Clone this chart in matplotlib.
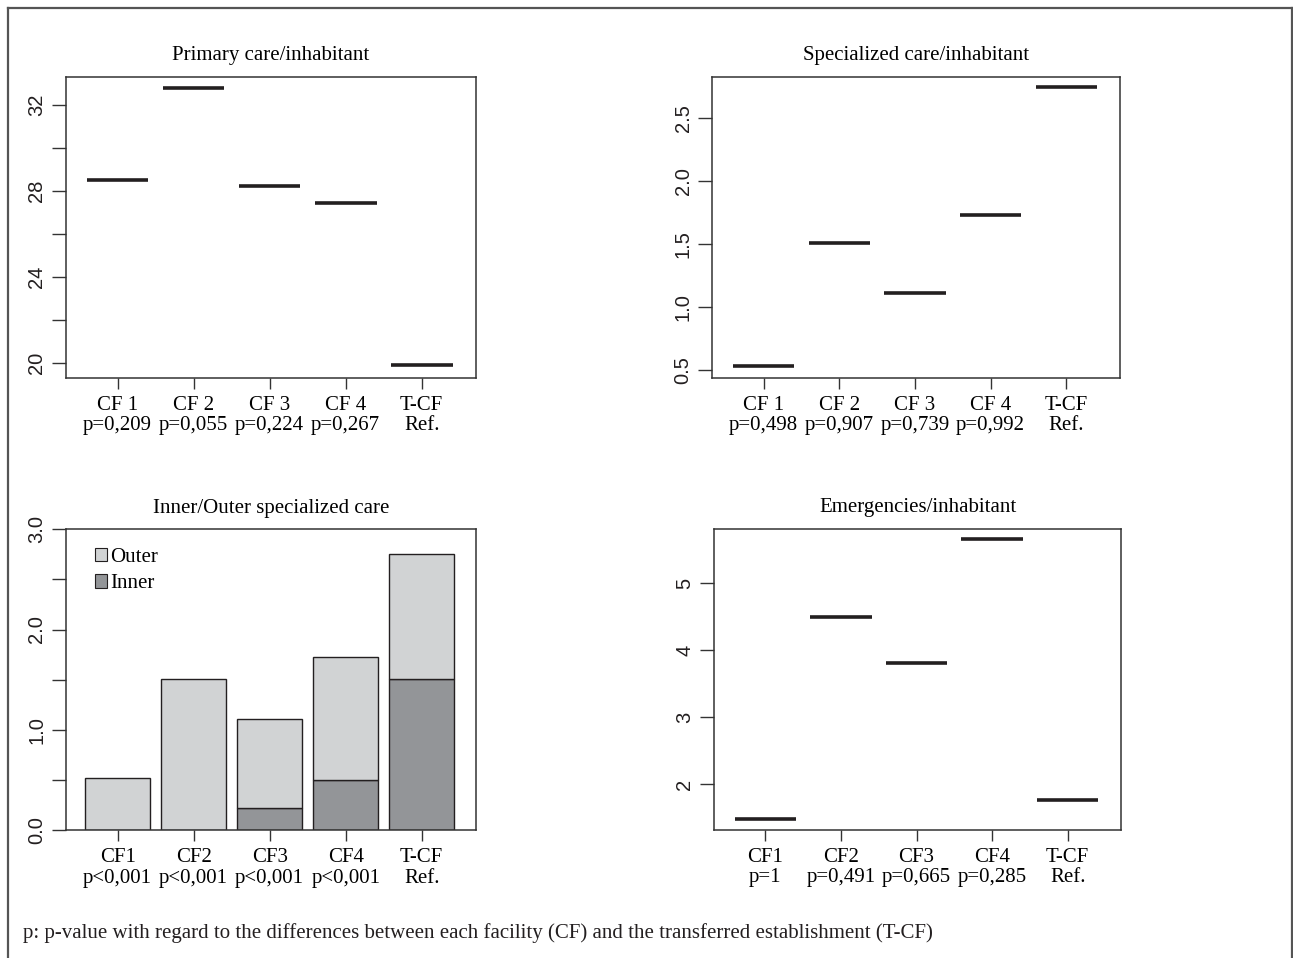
import numpy as np
import matplotlib
matplotlib.use("Agg")
import matplotlib.pyplot as plt
from matplotlib.patches import Patch
from matplotlib.lines import Line2D

plt.rcParams['font.family'] = ['Liberation Serif', 'DejaVu Serif']

# datos
labels_sp = ["CF 1\np=0,209", "CF 2\np=0,055", "CF 3\np=0,224", "CF 4\np=0,267", "T-CF\nRef."]
primary = [28.52, 32.78, 28.24, 27.46, 19.9]

labels_spec = ["CF 1\np=0,498", "CF 2\np=0,907", "CF 3\np=0,739", "CF 4\np=0,992", "T-CF\nRef."]
specialized = [0.53, 1.51, 1.11, 1.73, 2.75]

labels_io = ["CF1\np<0,001", "CF2\np<0,001", "CF3\np<0,001", "CF4\np<0,001", "T-CF\nRef."]
inner = [0.0, 0.0, 0.22, 0.50, 1.51]
total_io = [0.52, 1.51, 1.11, 1.73, 2.75]

labels_em = ["CF1\np=1", "CF2\np=0,491", "CF3\np=0,665", "CF4\np=0,285", "T-CF\nRef."]
emergencies = [1.48, 4.5, 3.81, 5.65, 1.76]

W, H = 1293, 958
fig = plt.figure(figsize=(W / 100, H / 100), dpi=100)

INK = '#231f20'
FS = 15


def make_ax(l, t, r, b):
    return fig.add_axes([l / W, 1 - b / H, (r - l) / W, (b - t) / H])


def style(ax, labels, title):
    x = np.arange(len(labels))
    ax.set_xlim(-0.684, 4.71)
    ax.set_xticks(x)
    ax.set_xticklabels(labels, fontsize=FS, linespacing=1.12)
    ax.set_title(title, fontsize=FS, pad=12)
    for s in ax.spines.values():
        s.set_color('#333333')
        s.set_linewidth(1.1)
    ax.tick_params(axis='x', length=8, width=1.0, color='#333333', pad=5)
    ax.tick_params(axis='y', length=10, width=1.0, color='#333333', labelrotation=90, pad=4)
    return x


def ylabels(ax, ticks, texts):
    ax.set_yticks(ticks)
    ax.set_yticklabels(texts, family=['Liberation Sans', 'DejaVu Sans'], fontsize=14.5,
                       va='center', color='#231f20')


def segments(ax, x, vals):
    ax.hlines(vals, x - 0.405, x + 0.405, colors=INK, linewidth=2.6)


# Primary care
ax1 = make_ax(65.7, 77, 475.7, 377.7)
x = style(ax1, labels_sp, "Primary care/inhabitant")
segments(ax1, x, primary)
ax1.set_ylim(19.33, 33.3)
ylabels(ax1, np.arange(20, 33, 2), ["20", "", "24", "", "28", "", "32"])

# Specialized care
ax2 = make_ax(712, 76.7, 1120, 377.7)
x = style(ax2, labels_spec, "Specialized care/inhabitant")
segments(ax2, x, specialized)
ax2.set_ylim(0.44, 2.83)
ylabels(ax2, [0.5, 1.0, 1.5, 2.0, 2.5], ["0.5", "1.0", "1.5", "2.0", "2.5"])

# Inner / Outer
ax3 = make_ax(65.7, 529.3, 475.7, 830)
x = style(ax3, labels_io, "Inner/Outer specialized care")
outer = np.array(total_io) - np.array(inner)
ax3.bar(x, inner, width=0.855, color='#939598', edgecolor=INK, linewidth=1.0)
ax3.bar(x, outer, bottom=inner, width=0.855, color='#d1d3d4', edgecolor=INK, linewidth=1.0)
ax3.set_ylim(0, 3.0)
ylabels(ax3, np.arange(0, 3.01, 0.5), ["0.0", "", "1.0", "", "2.0", "", "3.0"])
handles = [Patch(facecolor='#d1d3d4', edgecolor=INK, linewidth=0.8, label='Outer'),
           Patch(facecolor='#939598', edgecolor=INK, linewidth=0.8, label='Inner')]
ax3.legend(handles=handles, loc='upper left', bbox_to_anchor=(0.05, 0.965), frameon=False,
           fontsize=FS, handlelength=0.6, handleheight=0.6, handletextpad=0.15, labelspacing=0.35,
           borderaxespad=0)

# Emergencies
ax4 = make_ax(713.7, 528.7, 1121.3, 829.7)
x = style(ax4, labels_em, "Emergencies/inhabitant")
segments(ax4, x, emergencies)
ax4.set_ylim(1.32, 5.81)
ylabels(ax4, [2, 3, 4, 5], ["2", "3", "4", "5"])

fig.text(23 / W, 1 - 933 / H,
         "p: p-value with regard to the differences between each facility (CF) and the transferred establishment (T-CF)",
         fontsize=15, va='center', ha='left', color=INK)

# marco exterior
frame_kw = dict(color='#555555', linewidth=1.6, transform=fig.transFigure)
fig.add_artist(Line2D([7.5 / W, 7.5 / W], [0, 1 - 7.5 / H], **frame_kw))
fig.add_artist(Line2D([7.5 / W, 1291.5 / W], [1 - 7.5 / H, 1 - 7.5 / H], **frame_kw))
fig.add_artist(Line2D([1291.5 / W, 1291.5 / W], [0, 1 - 7.5 / H], **frame_kw))

fig.savefig("out.png", dpi=100)
